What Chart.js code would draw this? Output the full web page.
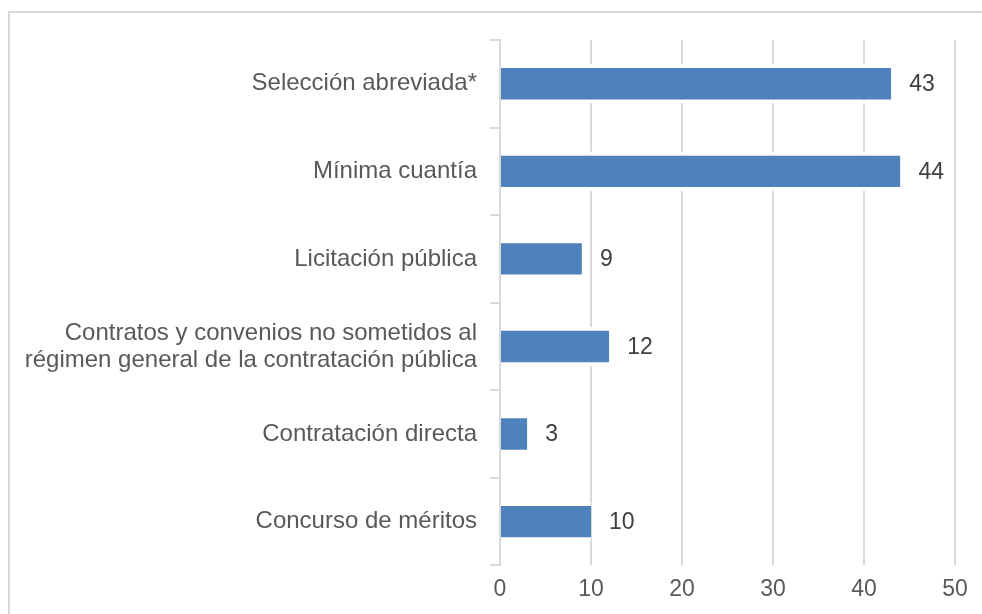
<!DOCTYPE html>
<html>
<head>
<meta charset="utf-8">
<script src="https://cdn.jsdelivr.net/npm/chart.js@4/dist/chart.umd.min.js"></script>
<style>
  body { margin: 0; background: #fff; overflow: hidden; }
  #frame { position: absolute; left: 8px; top: 11px; width: 1000px; height: 640px;
           border-left: 2px solid #d9d9d9; border-top: 2px solid #d9d9d9; }
  #wrap { position: absolute; left: 0; top: 0; width: 982px; height: 614px; }
</style>
</head>
<body>
<div id="frame"></div>
<div id="wrap"><canvas id="myChart"></canvas></div>
<script>
const categories = [
  'Selección abreviada*',
  'Mínima cuantía',
  'Licitación pública',
  ['Contratos y convenios no sometidos al', 'régimen general de la contratación pública'],
  'Contratación directa',
  'Concurso de méritos'
]
const counts = [43, 44, 9, 12, 3, 10]
const xTicks = [0, 10, 20, 30, 40, 50]

const barLabels = {
  id: 'barLabels',
  afterDatasetsDraw(chart) {
    const ctx = chart.ctx
    const meta = chart.getDatasetMeta(0)
    ctx.save()
    ctx.font = '23px "Liberation Sans", Arial, sans-serif'
    ctx.fillStyle = '#404040'
    ctx.textAlign = 'left'
    ctx.textBaseline = 'middle'
    meta.data.forEach((bar, i) => {
      ctx.fillText(String(counts[i]), bar.x + 18, bar.y + 1)
    })
    ctx.restore()
  }
}

const ctx = document.getElementById('myChart');

new Chart(ctx, {
  type: 'bar',
  data: {
    labels: categories,
    datasets: [{
      data: counts,
      backgroundColor: '#4f81bd',
      borderColor: '#ffffff',
      borderWidth: { top: 4, bottom: 4, left: 0, right: 0 },
      borderSkipped: false,
      barPercentage: 0.45,
      categoryPercentage: 1
    }]
  },
  options: {
    indexAxis: 'y',
    responsive: true,
    maintainAspectRatio: false,
    animation: false,
    layout: { padding: { top: 40, right: 27, bottom: 1, left: 0 } },
    plugins: {
      legend: { display: false },
      tooltip: { enabled: false }
    },
    scales: {
      x: {
        min: 0,
        max: 50,
        afterBuildTicks: (scale) => { scale.ticks = xTicks.map(v => ({ value: v })) },
        border: { display: false },
        grid: { color: '#d9d9d9', lineWidth: 2, drawTicks: false },
        ticks: {
          padding: 10,
          color: '#595959',
          font: { family: '"Liberation Sans", Arial, sans-serif', size: 23 }
        }
      },
      y: {
        afterFit: (scale) => { scale.width = 500 },
        border: { display: true, color: '#d9d9d9', width: 2 },
        grid: { drawOnChartArea: false, drawTicks: true, tickLength: 10, color: '#d9d9d9', lineWidth: 2, offset: true },
        ticks: {
          padding: 13,
          color: '#595959',
          font: { family: '"Liberation Sans", Arial, sans-serif', size: 24, lineHeight: 1.12 }
        }
      }
    }
  },
  plugins: [barLabels]
});
</script>
</body>
</html>
